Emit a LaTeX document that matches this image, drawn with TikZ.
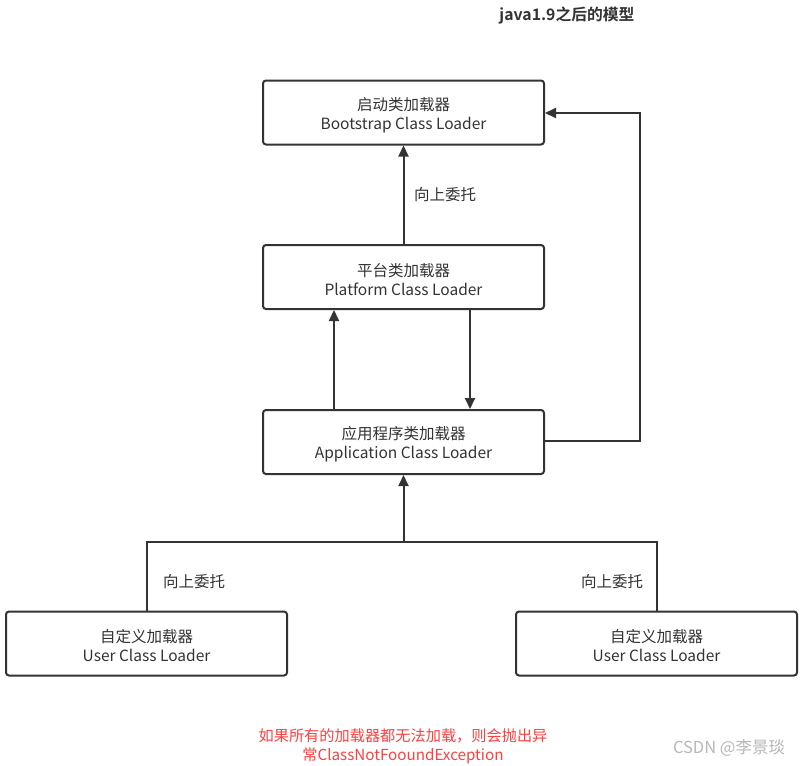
\documentclass[tikz,border=0pt]{standalone}
\usepackage{fontspec}
\setmainfont{Noto Sans CJK SC}
\newfontfamily\cjkb{Noto Sans CJK SC Bold}
\usetikzlibrary{arrows.meta}
\definecolor{ln}{HTML}{333333}
\definecolor{tx}{HTML}{333333}
\definecolor{rd}{HTML}{FF4040}
\definecolor{wm}{HTML}{B8B8B8}
\tikzset{
  loader/.style={draw=ln, line width=2pt, rounded corners=3pt, minimum width=281pt, minimum height=64pt, inner sep=0pt,
    label={[boxtext]center:#1}},
  boxtext/.style={align=center, text=tx, font=\fontsize{15.5}{19}\selectfont, inner sep=0pt, yshift=-2.5pt},
  conn/.style={draw=ln, line width=2pt},
  arr/.style={conn, -{Triangle[length=11pt,width=10pt]}},
  lbl/.style={text=tx, font=\fontsize{15.5}{17}\selectfont, inner sep=0pt}
}
\begin{document}
\begin{tikzpicture}[x=1pt,y=-1pt]
\useasboundingbox[fill=white] (0,0) rectangle (804,766);
\node[font=\cjkb\fontsize{15.8}{17}\selectfont, text=tx, inner sep=0pt] (title) at (567,15) {java1.9之后的模型};
\node[loader={启动类加载器\\Bootstrap Class Loader}] (boot) at (403.5,112.5) {};
\node[loader={平台类加载器\\Platform Class Loader}] (plat) at (403.5,277) {};
\node[loader={应用程序类加载器\\Application Class Loader}] (app) at (403.5,442) {};
\node[loader={自定义加载器\\User Class Loader}] (u1) at (146.5,643.5) {};
\node[loader={自定义加载器\\User Class Loader}] (u2) at (656.5,643.5) {};
% platform -> bootstrap
\draw[arr] (plat.north) -- (boot.south);
\node[lbl] (l1) at (445,195) {向上委托};
% app <-> platform
\draw[arr] (app.north -| 334,0) -- (plat.south -| 334,0);
\draw[arr] (plat.south -| 470,0) -- (app.north -| 470,0);
% app -> bootstrap
\coordinate (c1) at (640,441);
\coordinate (c2) at (640,113);
\draw[arr] (app.east |- c1) -- (c1) -- (c2) -- (boot.east |- c2);
% users -> app
\coordinate (j1) at (146.5,542);
\coordinate (j2) at (656.5,542);
\coordinate (jm) at (403.5,542);
\draw[conn] (u1.north) -- (j1) -- (j2) -- (u2.north);
\draw[arr] (jm) -- (app.south);
\node[lbl] (l2) at (194,582) {向上委托};
\node[lbl] (l3) at (612,582) {向上委托};
% red note
\node[text=rd, align=center, font=\fontsize{15.2}{19}\selectfont, inner sep=0pt] (note) at (403,746) {如果所有的加载器都无法加载，则会抛出异\\常ClassNotFooundException};
\node[text=wm, font=\fontsize{16.5}{17}\selectfont, inner sep=0pt] (wmk) at (729,748) {CSDN @李景琰};
\end{tikzpicture}
\end{document}
